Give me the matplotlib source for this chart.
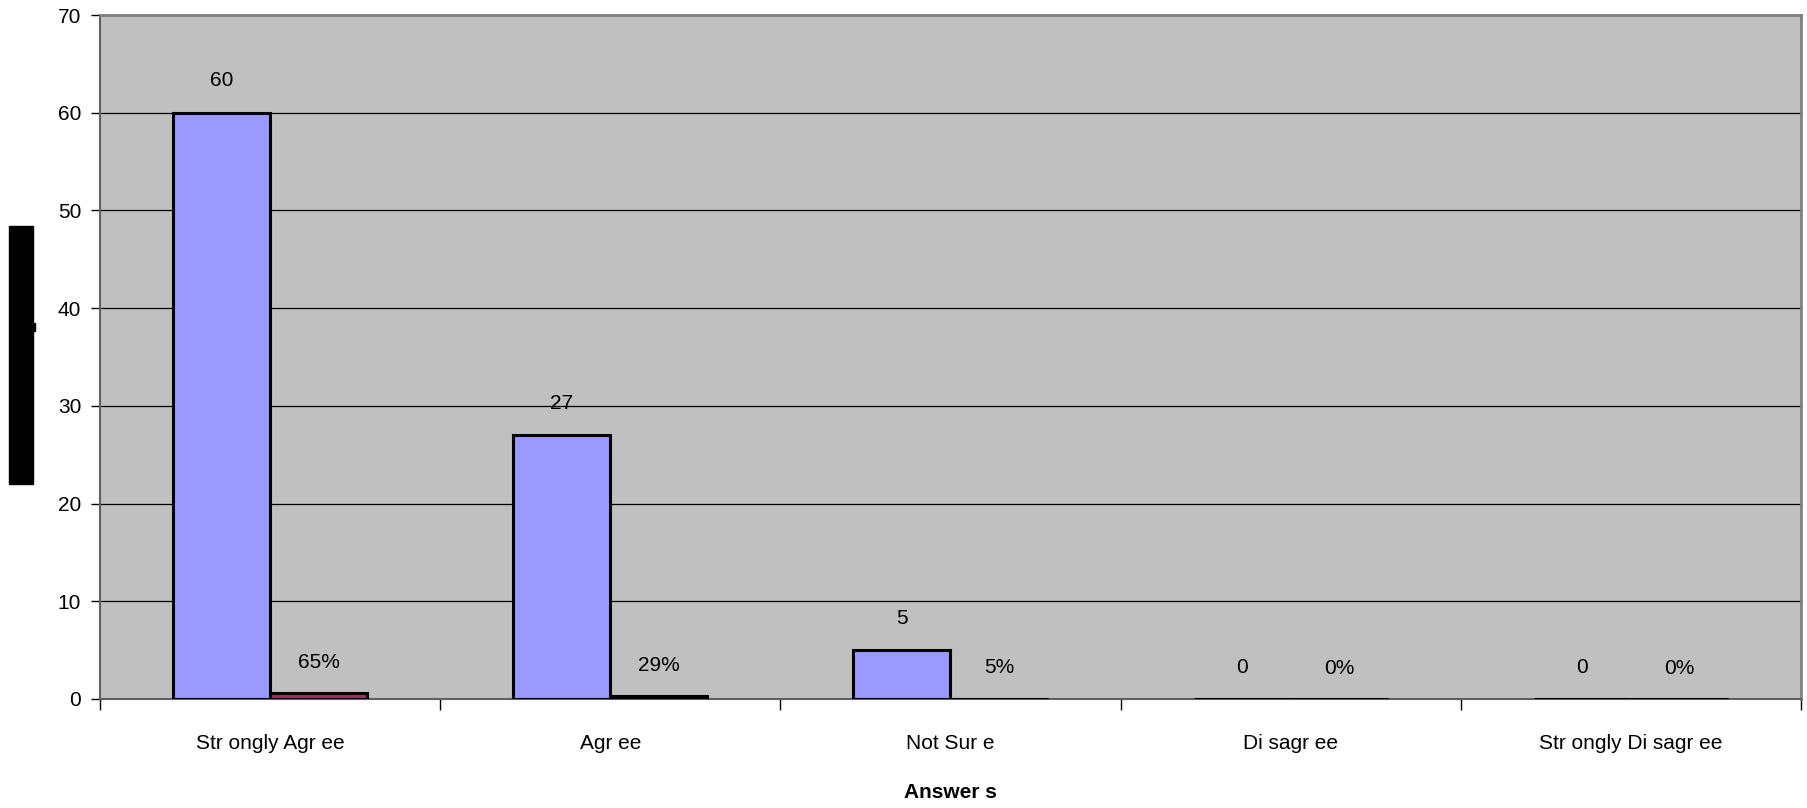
import matplotlib
matplotlib.use("Agg")
import matplotlib.pyplot as plt
from matplotlib.patches import Rectangle
import numpy as np

plt.rcParams['font.family'] = ['Liberation Sans', 'DejaVu Sans']

categories = ["Str ongly Agr ee", "Agr ee", "Not Sur e", "Di sagr ee", "Str ongly Di sagr ee"]
counts = [60, 27, 5, 0, 0]
percents = [0.65, 0.29, 0.05, 0.0, 0.0]
percent_labels = ["65%", "29%", "5%", "0%", "0%"]
xlabel = "Answer s"

W, H = 1808, 808
fig = plt.figure(figsize=(W / 100, H / 100), dpi=100)
fig.patch.set_facecolor("white")
ax = fig.add_axes([100 / W, 1 - 699 / H, (1801 - 100) / W, (699 - 15) / H])
ax.set_facecolor("#C0C0C0")

x = np.arange(len(categories))
w = 0.2857
ax.set_axisbelow(True)
ax.yaxis.grid(True, color="black", linewidth=0.9)
ax.bar(x - w / 2, counts, width=w, color="#9999FF", edgecolor="black", linewidth=2.2, zorder=3)
ax.bar(x + w / 2, percents, width=w, color="#993366", edgecolor="black", linewidth=2.2, zorder=3)

for xi, v in zip(x - w / 2, counts):
    ax.annotate(str(v), (xi, v), xytext=(0, 23), textcoords="offset points",
                ha="center", va="center", fontsize=15)
for xi, v, lab in zip(x + w / 2, percents, percent_labels):
    ax.annotate(lab, (xi, v), xytext=(0, 22), textcoords="offset points",
                ha="center", va="center", fontsize=15)

ax.set_xlim(-0.5, len(categories) - 0.5)
ax.set_ylim(0, 70)
ax.set_yticks(np.arange(0, 71, 10))
ax.tick_params(axis="y", labelsize=15, length=6.5, width=1, pad=7, direction="out")

ax.set_xticks(x)
ax.set_xticklabels(categories, fontsize=15)
ax.set_xticks(np.arange(-0.5, len(categories), 1.0), minor=True)
ax.tick_params(axis="x", which="major", length=0, pad=25)
ax.tick_params(axis="x", which="minor", length=8, width=1, direction="out")

ax.set_xlabel(xlabel, fontsize=15, fontweight="bold", labelpad=22)

for side in ["top", "right"]:
    ax.spines[side].set_color("#808080")
    ax.spines[side].set_linewidth(2)
ax.spines["left"].set_color("#606060")
ax.spines["left"].set_linewidth(1.5)
ax.spines["bottom"].set_color("#606060")
ax.spines["bottom"].set_linewidth(1.5)

# blacked-out y-axis title box
fig.patches.append(Rectangle((9 / W, 1 - 484 / H), 24 / W, 258 / H,
                             transform=fig.transFigure, color="black"))
fig.patches.append(Rectangle((33 / W, 1 - 331 / H), 2 / W, 8 / H,
                             transform=fig.transFigure, color="black"))

fig.savefig("out.png", dpi=100)
